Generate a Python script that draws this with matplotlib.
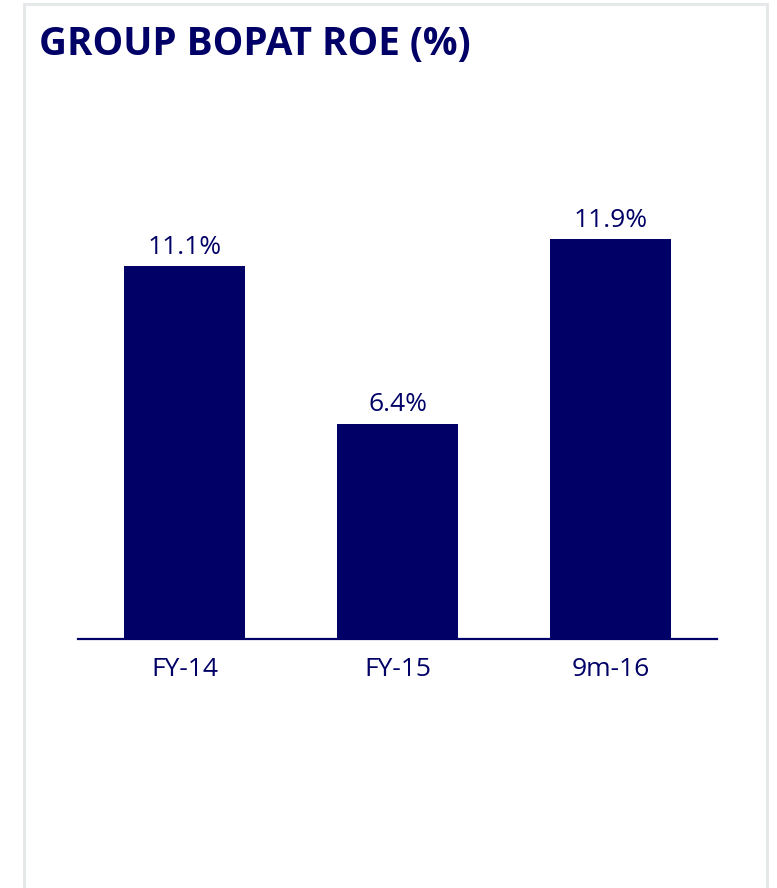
import matplotlib.pyplot as plt
from matplotlib.patches import Rectangle

categories = ['FY-14', 'FY-15', '9m-16']
roe = [11.1, 6.4, 11.9]
labels = ['11.1%', '6.4%', '11.9%']

navy = '#000066'
plt.rcParams['font.family'] = ['Open Sans', 'DejaVu Sans']

fig = plt.figure(figsize=(7.77, 8.88), dpi=100)
W, H = 777, 888

# card border
fig.patches.append(Rectangle((24 / W, -0.05), (767 - 24) / W, 1.05 - 4 / H,
                             transform=fig.transFigure, fill=False,
                             edgecolor='#e6e9e9', linewidth=2.2))

fig.text(39 / W, 1 - 44 / H, 'GROUP BOPAT ROE (%)', color=navy,
         fontsize=27.8, fontweight='bold', va='center', ha='left')

ax = fig.add_axes([78 / W, (H - 639) / H, (717 - 78) / W, 470 / H])
x = range(len(categories))
bars = ax.bar(x, roe, width=0.565, color=navy)
ax.set_xlim(-0.5, 2.5)
ax.set_ylim(0, 14)

for b, lab in zip(bars, labels):
    ax.text(b.get_x() + b.get_width() / 2, b.get_height() + 0.2, lab,
            ha='center', va='bottom', fontsize=19, color=navy)

ax.set_xticks(list(x))
ax.set_xticklabels(categories, fontsize=19, color=navy)
ax.tick_params(axis='x', length=0, pad=13)
ax.set_yticks([])
for s in ['top', 'right', 'left']:
    ax.spines[s].set_visible(False)
ax.spines['bottom'].set_color(navy)
ax.spines['bottom'].set_linewidth(1.6)

fig.savefig('out.png', dpi=100)
